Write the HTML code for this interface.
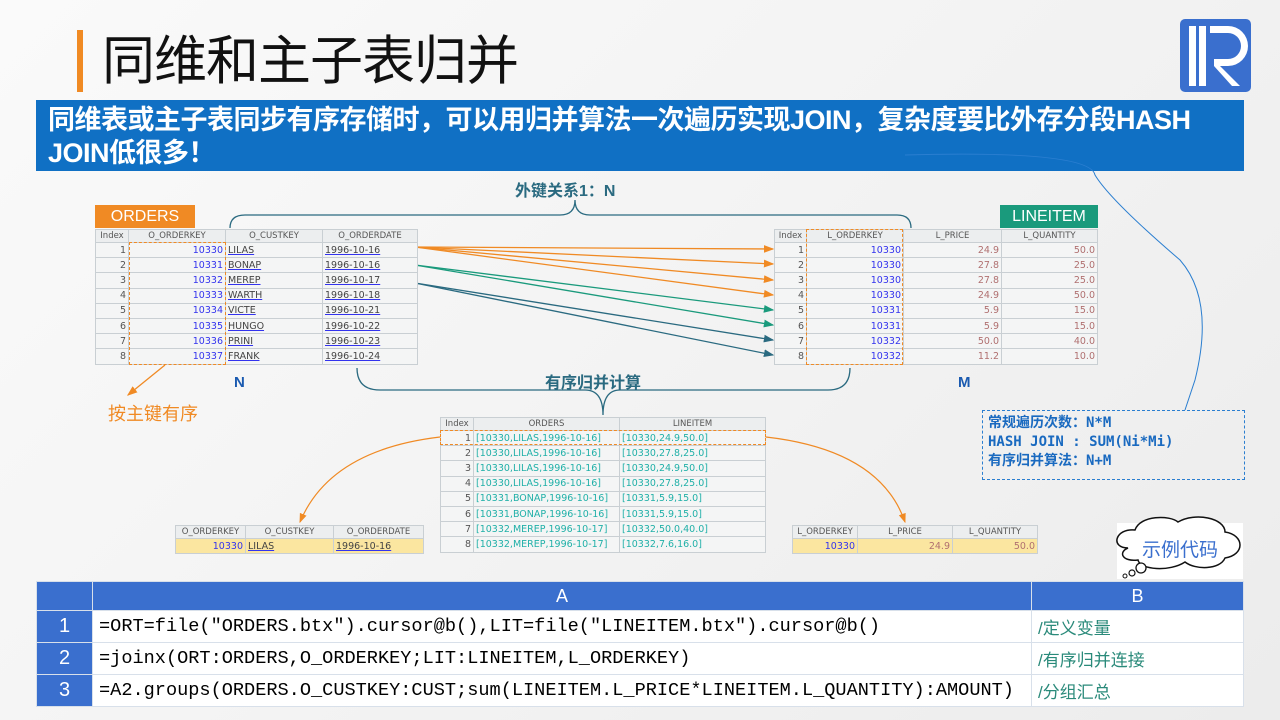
<!DOCTYPE html>
<html><head><meta charset="utf-8"><style>
*{margin:0;padding:0;box-sizing:border-box}
body{width:1280px;height:720px;overflow:hidden;position:relative;background:linear-gradient(135deg,#fafafa,#ececec);font-family:"Liberation Sans","Noto Sans CJK SC",sans-serif}
.a{position:absolute}
table{border-collapse:collapse;position:absolute;font-family:"DejaVu Sans","Liberation Sans",sans-serif;font-size:9.5px;background:#f4f5f5}
td,th{border:1px solid #c9cfd3;height:15.2px;padding:0 2px;white-space:nowrap;overflow:hidden}
th{font-weight:normal;color:#555;background:#eceeef;height:13px;font-size:8.5px}
td.i{text-align:right;color:#555}
td.k{text-align:right;color:#3333ee}
td.u{color:#444;text-decoration:underline;text-decoration-color:#33e}
td.p{text-align:right;color:#b07070}
td.t{color:#20b0a8}
.code td{border:1px solid #d8e0ea;height:32px;font-family:"Liberation Mono","DejaVu Sans Mono",monospace;font-size:18.6px;background:#fff;padding:0 6px;white-space:nowrap}
.code td.n{background:#3a6fce;color:#fff;text-align:center;font-family:"Liberation Sans",sans-serif;font-size:20px}
.code td.b{color:#2a8a7a;font-family:"Liberation Sans","Noto Sans CJK SC",sans-serif;font-size:17px}
.code tr.h td{background:#3a6fce;color:#fff;height:29px;text-align:center;font-family:"Liberation Sans",sans-serif;font-size:18px}
</style></head><body>
<div class="a" style="left:77px;top:30px;width:6px;height:62px;background:#f08a24"></div>
<div class="a" style="left:102px;top:30px;font-size:53px;color:#111;line-height:64px;font-family:'Liberation Sans','Noto Sans CJK SC',sans-serif;letter-spacing:-1px">同维和主子表归并</div>
<svg class="a" style="left:1180px;top:19px" width="72" height="74"><rect x="0" y="0" width="71" height="73" rx="5" fill="#3a6fce"/><rect x="9" y="7" width="7" height="60" fill="#fff"/><rect x="19" y="7" width="7" height="60" fill="#fff"/><path d="M30 7 H48 A20 20 0 0 1 48 47 H40 L60 67 H52 L34 47 V40 H48 A13 13 0 0 0 48 14 H30 Z" fill="#fff"/></svg>
<div class="a" style="left:36px;top:100px;width:1208px;height:71px;background:#1070c4;color:#fff;font-size:27px;font-weight:bold;line-height:33px;padding:4px 0 0 12px;font-family:'Liberation Sans','Noto Sans CJK SC',sans-serif;letter-spacing:-0.5px">同维表或主子表同步有序存储时，可以用归并算法一次遍历实现JOIN，复杂度要比外存分段HASH<br>JOIN低很多！</div>

<svg class="a" style="left:0;top:0" width="1280" height="720">
<defs>
<marker id="mo" markerWidth="8" markerHeight="8" refX="7" refY="4" orient="auto"><path d="M0,1 L8,4 L0,7Z" fill="#f08a24"/></marker>
<marker id="mg" markerWidth="8" markerHeight="8" refX="7" refY="4" orient="auto"><path d="M0,1 L8,4 L0,7Z" fill="#1a9a7c"/></marker>
<marker id="md" markerWidth="8" markerHeight="8" refX="7" refY="4" orient="auto"><path d="M0,1 L8,4 L0,7Z" fill="#2a6a80"/></marker>
</defs>
<path d="M230,228 Q230,215 245,215 H560 Q575,215 575,200 Q575,215 590,215 H897 Q911,215 911,228" fill="none" stroke="#2a6a80" stroke-width="1.3"/>
<path d="M357,368 Q357,390 380,390 H585 Q603,390 603,415 Q603,390 620,390 H828 Q850,390 850,368" fill="none" stroke="#2a6a80" stroke-width="1.3"/>
<g stroke="#f08a24" stroke-width="1.3" fill="none">
<line x1="415" y1="247" x2="773" y2="249" marker-end="url(#mo)"/>
<line x1="415" y1="247" x2="773" y2="264" marker-end="url(#mo)"/>
<line x1="415" y1="247" x2="773" y2="280" marker-end="url(#mo)"/>
<line x1="415" y1="247" x2="773" y2="295" marker-end="url(#mo)"/>
</g>
<g stroke="#1a9a7c" stroke-width="1.3" fill="none">
<line x1="415" y1="265" x2="773" y2="310" marker-end="url(#mg)"/>
<line x1="415" y1="265" x2="773" y2="325" marker-end="url(#mg)"/>
</g>
<g stroke="#2a6a80" stroke-width="1.3" fill="none">
<line x1="415" y1="283" x2="773" y2="340" marker-end="url(#md)"/>
<line x1="415" y1="283" x2="773" y2="355" marker-end="url(#md)"/>
</g>
<path d="M165,365 L128,395" stroke="#f08a24" stroke-width="1.3" fill="none" marker-end="url(#mo)"/>
<path d="M440,437 Q330,450 300,522" stroke="#f08a24" stroke-width="1.2" fill="none" marker-end="url(#mo)"/>
<path d="M766,437 Q880,450 905,522" stroke="#f08a24" stroke-width="1.2" fill="none" marker-end="url(#mo)"/>
<path d="M905,155 Q1090,150 1095,175 Q1110,200 1180,260 Q1215,300 1195,380 L1185,410" stroke="#2a7ed0" stroke-width="1" fill="none"/>
<rect x="1117" y="523" width="126" height="56" fill="#fff"/>
<path d="M1128,548 C1110,548 1115,528 1135,530 C1140,515 1170,515 1178,522 C1195,512 1225,518 1225,532 C1245,535 1245,555 1225,558 C1220,570 1195,570 1185,562 C1170,572 1140,570 1138,560 C1122,562 1118,552 1128,548Z" fill="#fff" stroke="#111" stroke-width="1.5"/>
<circle cx="1141" cy="568" r="5" fill="#fff" stroke="#111" stroke-width="1.3"/>
<circle cx="1132" cy="573" r="3" fill="#fff" stroke="#111" stroke-width="1.2"/>
<circle cx="1125" cy="576" r="2" fill="#fff" stroke="#111" stroke-width="1"/>
</svg>

<div class="a" style="left:95px;top:205px;width:100px;height:23px;background:#f08a24;color:#fff;font-size:16px;line-height:23px;text-align:center">ORDERS</div>
<div class="a" style="left:1000px;top:205px;width:98px;height:23px;background:#1a9a7c;color:#fff;font-size:16px;line-height:23px;text-align:center">LINEITEM</div>
<div class="a" style="left:515px;top:177px;font-size:16px;color:#2a6a80;font-weight:bold;font-family:'Liberation Sans','Noto Sans CJK SC',sans-serif">外键关系1：N</div>
<div class="a" style="left:545px;top:369px;font-size:16px;color:#2a6a80;font-weight:bold;font-family:'Liberation Sans','Noto Sans CJK SC',sans-serif">有序归并计算</div>
<div class="a" style="left:234px;top:374px;font-size:15px;color:#1a5ab0;font-weight:bold">N</div>
<div class="a" style="left:958px;top:374px;font-size:15px;color:#1a5ab0;font-weight:bold">M</div>
<div class="a" style="left:108px;top:400px;font-size:18px;color:#f08a24;font-family:'Liberation Sans','Noto Sans CJK SC',sans-serif">按主键有序</div>

<table style="left:95px;top:229px;width:323px">
<tr><th style="width:33px">Index</th><th style="width:97px">O_ORDERKEY</th><th style="width:97px">O_CUSTKEY</th><th>O_ORDERDATE</th></tr>
<tr><td class="i">1</td><td class="k">10330</td><td class="u">LILAS</td><td class="u">1996-10-16</td></tr>
<tr><td class="i">2</td><td class="k">10331</td><td class="u">BONAP</td><td class="u">1996-10-16</td></tr>
<tr><td class="i">3</td><td class="k">10332</td><td class="u">MEREP</td><td class="u">1996-10-17</td></tr>
<tr><td class="i">4</td><td class="k">10333</td><td class="u">WARTH</td><td class="u">1996-10-18</td></tr>
<tr><td class="i">5</td><td class="k">10334</td><td class="u">VICTE</td><td class="u">1996-10-21</td></tr>
<tr><td class="i">6</td><td class="k">10335</td><td class="u">HUNGO</td><td class="u">1996-10-22</td></tr>
<tr><td class="i">7</td><td class="k">10336</td><td class="u">PRINI</td><td class="u">1996-10-23</td></tr>
<tr><td class="i">8</td><td class="k">10337</td><td class="u">FRANK</td><td class="u">1996-10-24</td></tr>
</table>
<div class="a" style="left:129px;top:242px;width:97px;height:123px;border:1.5px dashed #f08a24"></div>

<table style="left:774px;top:229px;width:324px">
<tr><th style="width:32px">Index</th><th style="width:97px">L_ORDERKEY</th><th style="width:98px">L_PRICE</th><th>L_QUANTITY</th></tr>
<tr><td class="i">1</td><td class="k">10330</td><td class="p">24.9</td><td class="p">50.0</td></tr>
<tr><td class="i">2</td><td class="k">10330</td><td class="p">27.8</td><td class="p">25.0</td></tr>
<tr><td class="i">3</td><td class="k">10330</td><td class="p">27.8</td><td class="p">25.0</td></tr>
<tr><td class="i">4</td><td class="k">10330</td><td class="p">24.9</td><td class="p">50.0</td></tr>
<tr><td class="i">5</td><td class="k">10331</td><td class="p">5.9</td><td class="p">15.0</td></tr>
<tr><td class="i">6</td><td class="k">10331</td><td class="p">5.9</td><td class="p">15.0</td></tr>
<tr><td class="i">7</td><td class="k">10332</td><td class="p">50.0</td><td class="p">40.0</td></tr>
<tr><td class="i">8</td><td class="k">10332</td><td class="p">11.2</td><td class="p">10.0</td></tr>
</table>
<div class="a" style="left:806px;top:229px;width:97px;height:136px;border:1.5px dashed #f08a24"></div>

<table style="left:440px;top:417px;width:326px">
<tr><th style="width:33px">Index</th><th style="width:146px">ORDERS</th><th>LINEITEM</th></tr>
<tr><td class="i">1</td><td class="t">[10330,LILAS,1996-10-16]</td><td class="t">[10330,24.9,50.0]</td></tr>
<tr><td class="i">2</td><td class="t">[10330,LILAS,1996-10-16]</td><td class="t">[10330,27.8,25.0]</td></tr>
<tr><td class="i">3</td><td class="t">[10330,LILAS,1996-10-16]</td><td class="t">[10330,24.9,50.0]</td></tr>
<tr><td class="i">4</td><td class="t">[10330,LILAS,1996-10-16]</td><td class="t">[10330,27.8,25.0]</td></tr>
<tr><td class="i">5</td><td class="t">[10331,BONAP,1996-10-16]</td><td class="t">[10331,5.9,15.0]</td></tr>
<tr><td class="i">6</td><td class="t">[10331,BONAP,1996-10-16]</td><td class="t">[10331,5.9,15.0]</td></tr>
<tr><td class="i">7</td><td class="t">[10332,MEREP,1996-10-17]</td><td class="t">[10332,50.0,40.0]</td></tr>
<tr><td class="i">8</td><td class="t">[10332,MEREP,1996-10-17]</td><td class="t">[10332,7.6,16.0]</td></tr>
</table>
<div class="a" style="left:440px;top:430px;width:326px;height:15px;border:1.5px dashed #f08a24"></div>

<table style="left:175px;top:525px;width:249px">
<tr><th style="width:70px">O_ORDERKEY</th><th style="width:88px">O_CUSTKEY</th><th>O_ORDERDATE</th></tr>
<tr><td class="k" style="background:#fbe6a0">10330</td><td class="u" style="background:#fbe6a0">LILAS</td><td class="u" style="background:#fbe6a0">1996-10-16</td></tr>
</table>
<table style="left:792px;top:525px;width:246px">
<tr><th style="width:65px">L_ORDERKEY</th><th style="width:95px">L_PRICE</th><th>L_QUANTITY</th></tr>
<tr><td class="k" style="background:#fbe6a0">10330</td><td class="p" style="background:#fbe6a0">24.9</td><td class="p" style="background:#fbe6a0">50.0</td></tr>
</table>

<div class="a" style="left:982px;top:410px;width:263px;height:70px;border:1px dashed #2a7ed0;color:#1a6ac0;font-weight:bold;font-size:14px;line-height:19px;padding:3px 0 0 5px;font-family:'DejaVu Sans Mono','Noto Sans CJK SC',monospace">常规遍历次数：N*M<br>HASH JOIN : SUM(Ni*Mi)<br>有序归并算法：N+M</div>
<div class="a" style="left:1142px;top:535px;font-size:19px;color:#3a6fce;font-family:'Liberation Sans','Noto Sans CJK SC',sans-serif">示例代码</div>

<table class="code" style="left:36px;top:581px;width:1208px">
<tr class="h"><td style="width:56px"></td><td style="width:939px">A</td><td>B</td></tr>
<tr><td class="n">1</td><td>=ORT=file("ORDERS.btx").cursor@b(),LIT=file("LINEITEM.btx").cursor@b()</td><td class="b">/定义变量</td></tr>
<tr><td class="n">2</td><td>=joinx(ORT:ORDERS,O_ORDERKEY;LIT:LINEITEM,L_ORDERKEY)</td><td class="b">/有序归并连接</td></tr>
<tr><td class="n">3</td><td>=A2.groups(ORDERS.O_CUSTKEY:CUST;sum(LINEITEM.L_PRICE*LINEITEM.L_QUANTITY):AMOUNT)</td><td class="b">/分组汇总</td></tr>
</table>
</body></html>
